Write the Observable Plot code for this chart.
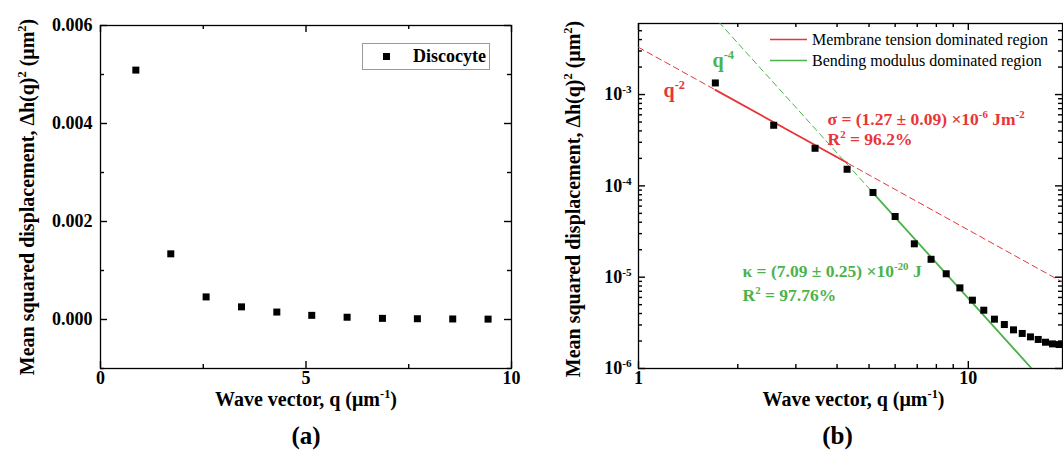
<!DOCTYPE html>
<html><head><meta charset="utf-8">
<script src="https://cdn.jsdelivr.net/npm/d3@7"></script>
<script src="https://cdn.jsdelivr.net/npm/@observablehq/plot@0.6"></script>
<style>
html,body{margin:0;padding:0;background:#fff;}
body{width:1063px;height:471px;overflow:hidden;position:relative;font-family:"Liberation Serif","Tinos","Times New Roman","DejaVu Serif",serif;color:#000;}
#a{position:absolute;left:0;top:0}
#b{position:absolute;left:540px;top:0}
.leg{position:absolute;white-space:nowrap;}
svg text{font-family:"Liberation Serif","Tinos","Times New Roman","DejaVu Serif",serif;}
</style></head><body>
<div id="a"></div><div id="b"></div>
<div id="legends"></div>
<script>
// ---- data ----
const waveVector = [0.86, 1.71, 2.57, 3.43, 4.29, 5.14, 6.00, 6.86, 7.71, 8.57, 9.43, 10.29, 11.14, 12.00, 12.86, 13.71, 14.57, 15.43, 16.29, 17.14, 18.00, 18.86];
const msd = [5.09e-3, 1.34e-3, 4.61e-4, 2.58e-4, 1.52e-4, 8.47e-5, 4.62e-5, 2.32e-5, 1.57e-5, 1.09e-5, 7.64e-6, 5.6e-6, 4.35e-6, 3.47e-6, 3.03e-6, 2.65e-6, 2.42e-6, 2.22e-6, 2.08e-6, 1.94e-6, 1.86e-6, 1.83e-6];
const seriesName = "Discocyte";
// fit parameters (amplitude of power law) and fit ranges
const tensionAmp = 3.29e-3, tensionExp = -2, tensionRange = [1.71, 4.29];
const bendingAmp = 0.0586, bendingExp = -4, bendingRange = [5.14, 16];
const lineRange = [1, 19.3];
const legendB = ["Membrane tension dominated region", "Bending modulus dominated region"];
const annoTension = ["σ = (1.27 ± 0.09) ×10⁻⁶ Jm⁻²", "R² = 96.2%"];
const annoBending = ["κ = (7.09 ± 0.25) ×10⁻²⁰ J", "R² = 97.76%"];
const xTitle = "Wave vector, q (μm⁻¹)";
const yTitle = "Mean squared displacement, Δh(q)² (μm²)";
// ticks
const xTicksA = [0, 5, 10], xMinorA = [2.5, 7.5];
const yTicksA = [0, 0.002, 0.004, 0.006], yMinorA = [-0.001, 0.001, 0.003, 0.005];
const xTicksB = [1, 10], yTicksB = [1e-6, 1e-5, 1e-4, 1e-3];

const RED = "#e8353a", GREEN = "#4cb24c";
const serif = '"Liberation Serif","Tinos","Times New Roman","DejaVu Serif",serif';

const sd = {"-":"⁻","0":"⁰","1":"¹","2":"²","3":"³","4":"⁴","5":"⁵","6":"⁶","7":"⁷","8":"⁸","9":"⁹"};
const sup = s => String(s).split("").map(c => sd[c]).join("");
const fmtPow = d => "10" + sup(Math.round(Math.log10(d)));

// inward ticks on all four sides, drawn as tick marks with insets
const TW = 1.4;
function inwardX(values, size, frameH) {
  return [
    Plot.tickX(values, {x: d => d, insetTop: frameH - size, stroke: "#000", strokeWidth: TW}),
    Plot.tickX(values, {x: d => d, insetBottom: frameH - size, stroke: "#000", strokeWidth: TW})
  ];
}
function inwardY(values, size, frameW) {
  return [
    Plot.tickY(values, {y: d => d, insetRight: frameW - size, stroke: "#000", strokeWidth: TW}),
    Plot.tickY(values, {y: d => d, insetLeft: frameW - size, stroke: "#000", strokeWidth: TW})
  ];
}

// ---- panel (a) ----
const A = {width: 540, height: 471, mL: 100, mR: 29, mT: 25, mB: 103};
const fwA = A.width - A.mL - A.mR, fhA = A.height - A.mT - A.mB;
const dataA = waveVector.map((q, i) => ({q, v: msd[i]})).filter(d => d.q < 10);
const plotA = Plot.plot({
  width: A.width, height: A.height,
  marginLeft: A.mL, marginRight: A.mR, marginTop: A.mT, marginBottom: A.mB,
  style: {fontFamily: serif, fontSize: "18px", fontWeight: "bold", color: "#000", background: "#fff", overflow: "visible"},
  x: {domain: [0, 10]},
  y: {domain: [-0.001, 0.006]},
  marks: [
    Plot.frame({stroke: "#000", strokeWidth: 1.3}),
    ...inwardX(xTicksA, 7, fhA), ...inwardX(xMinorA, 4, fhA),
    ...inwardY(yTicksA, 7, fwA), ...inwardY(yMinorA, 4, fwA),
    Plot.axisX(xTicksA, {tickSize: 0, tickPadding: 3, label: null, tickFormat: d => String(d), fontSize: 18, fontWeight: "bold"}),
    Plot.axisY(yTicksA, {tickSize: 0, tickPadding: 8, label: null, tickFormat: d3.format(".3f"), fontSize: 18, fontWeight: "bold"}),
    Plot.dot(dataA, {x: "q", y: "v", symbol: "square", r: 3.95, fill: "#000", stroke: "none"}),
    Plot.text([xTitle], {frameAnchor: "bottom", textAnchor: "middle", dy: 37, fontSize: 20, fontWeight: "bold"}),
    Plot.text([yTitle], {frameAnchor: "left", textAnchor: "middle", rotate: -90, dx: -73, fontSize: 20, fontWeight: "bold"}),
    Plot.text(["(a)"], {frameAnchor: "bottom", textAnchor: "middle", dy: 75, fontSize: 25, fontWeight: "bold"})
  ]
});
document.getElementById("a").append(plotA);

// ---- panel (b) ----
const B = {width: 523, height: 471, mL: 98, mR: 1, mT: 23, mB: 103};
const fwB = B.width - B.mL - B.mR, fhB = B.height - B.mT - B.mB;
const dataB = waveVector.map((q, i) => ({q, v: msd[i]})).slice(1);
const powerLine = (amp, exp, range) => range.map(q => ({q, v: amp * Math.pow(q, exp)}));
const minorLog = (lo, hi) => { const out = []; for (let e = lo; e <= hi; e++) for (let m = 2; m <= 9; m++) out.push(m * Math.pow(10, e)); return out; };
const xMinorB = minorLog(0, 1).filter(v => v < 19.3);
const yMinorB = minorLog(-6, -3).filter(v => v < 6e-3);

const plotB = Plot.plot({
  width: B.width, height: B.height,
  marginLeft: B.mL, marginRight: B.mR, marginTop: B.mT, marginBottom: B.mB,
  style: {fontFamily: serif, fontSize: "18px", fontWeight: "bold", color: "#000", background: "#fff", overflow: "visible"},
  x: {type: "log", domain: [1, 19.3]},
  y: {type: "log", domain: [1e-6, 6e-3]},
  marks: [
    Plot.frame({stroke: "#000", strokeWidth: 1.3}),
    ...inwardX(xTicksB, 7, fhB), ...inwardX(xMinorB, 4, fhB),
    ...inwardY(yTicksB, 7, fwB), ...inwardY(yMinorB, 4, fwB),
    Plot.axisX(xTicksB, {tickSize: 0, tickPadding: 3, label: null, tickFormat: d => String(d), fontSize: 18, fontWeight: "bold"}),
    Plot.axisY(yTicksB, {tickSize: 0, tickPadding: 7, label: null, tickFormat: fmtPow, fontSize: 18, fontWeight: "bold"}),
    Plot.line(powerLine(tensionAmp, tensionExp, lineRange), {x: "q", y: "v", stroke: RED, strokeWidth: 1, strokeDasharray: "6,4", clip: true}),
    Plot.line(powerLine(bendingAmp, bendingExp, lineRange), {x: "q", y: "v", stroke: GREEN, strokeWidth: 1, strokeDasharray: "6,4", clip: true}),
    Plot.line(powerLine(tensionAmp, tensionExp, tensionRange), {x: "q", y: "v", stroke: RED, strokeWidth: 1.8, clip: true}),
    Plot.line(powerLine(bendingAmp, bendingExp, bendingRange), {x: "q", y: "v", stroke: GREEN, strokeWidth: 1.8, clip: true}),
    Plot.dot(dataB, {x: "q", y: "v", symbol: "square", r: 3.95, fill: "#000", stroke: "none"}),
    Plot.text(["q⁻²"], {frameAnchor: "top-left", dx: 25, dy: 59, fill: RED, fontSize: 20, fontWeight: "bold", textAnchor: "start"}),
    Plot.text(["q⁻⁴"], {frameAnchor: "top-left", dx: 74, dy: 29, fill: GREEN, fontSize: 20, fontWeight: "bold", textAnchor: "start"}),
    Plot.text([annoTension[0]], {frameAnchor: "top-left", dx: 189, dy: 89, fill: RED, fontSize: 17.5, fontWeight: "bold", textAnchor: "start"}),
    Plot.text([annoTension[1]], {frameAnchor: "top-left", dx: 189, dy: 109, fill: RED, fontSize: 17.5, fontWeight: "bold", textAnchor: "start"}),
    Plot.text([annoBending[0]], {frameAnchor: "top-left", dx: 104, dy: 241, fill: GREEN, fontSize: 17.5, fontWeight: "bold", textAnchor: "start"}),
    Plot.text([annoBending[1]], {frameAnchor: "top-left", dx: 104, dy: 265, fill: GREEN, fontSize: 17.5, fontWeight: "bold", textAnchor: "start"}),
    Plot.text([xTitle], {frameAnchor: "bottom", textAnchor: "middle", dy: 37, dx: 3, fontSize: 20, fontWeight: "bold"}),
    Plot.text([yTitle], {frameAnchor: "left", textAnchor: "middle", rotate: -90, dx: -65, dy: 3, fontSize: 20, fontWeight: "bold"}),
    Plot.text(["(b)"], {frameAnchor: "bottom", textAnchor: "middle", dy: 75, dx: -13, fontSize: 25, fontWeight: "bold"})
  ]
});
document.getElementById("b").append(plotB);

// ---- turn unicode superscripts into raised, smaller tspans ----
const supBack = {"⁻":"-","⁰":"0","¹":"1","²":"2","³":"3","⁴":"4","⁵":"5","⁶":"6","⁷":"7","⁸":"8","⁹":"9"};
const NS = "http://www.w3.org/2000/svg";
function fixSup(root) {
  root.querySelectorAll("text").forEach(t => {
    const targets = t.querySelector("tspan") ? Array.from(t.querySelectorAll("tspan")) : [t];
    targets.forEach(el => {
      const s = el.textContent;
      if (![...s].some(c => c in supBack)) return;
      const fs = parseFloat(getComputedStyle(el).fontSize) || 18;
      const raise = 0.38 * fs;
      const runs = [];
      for (const c of s) {
        const isSup = c in supBack, ch = isSup ? supBack[c] : c;
        if (runs.length && runs[runs.length - 1].sup === isSup) runs[runs.length - 1].text += ch;
        else runs.push({sup: isSup, text: ch});
      }
      el.textContent = "";
      let raised = false;
      runs.forEach(r => {
        const ts = document.createElementNS(NS, "tspan");
        ts.textContent = r.text;
        if (r.sup) { ts.setAttribute("font-size", (0.62 * fs) + "px"); ts.setAttribute("dy", -raise); raised = true; }
        else if (raised) { ts.setAttribute("dy", raise); raised = false; }
        el.appendChild(ts);
      });
    });
  });
}
fixSup(plotA); fixSup(plotB);

// ---- legends (HTML overlays) ----
const leg = document.getElementById("legends");
leg.innerHTML = `
<div class="leg" style="left:362px;top:43px;width:128px;height:27px;border:1px solid #9a9a9a;box-sizing:border-box;background:#fff;">
  <div style="position:absolute;left:20px;top:9px;width:7px;height:7px;background:#000"></div>
  <div style="position:absolute;left:50px;top:0;line-height:25px;font-size:18px;font-weight:bold;">${seriesName}</div>
</div>
<div class="leg" style="left:770px;top:29px;height:21px;">
  <svg width="38" height="21" style="position:absolute;left:0;top:0"><line x1="0" x2="37" y1="10.5" y2="10.5" stroke="${RED}" stroke-width="1.6"/></svg>
  <div style="position:absolute;left:42px;top:0;line-height:21px;font-size:16px;">${legendB[0]}</div>
</div>
<div class="leg" style="left:770px;top:50px;height:21px;">
  <svg width="38" height="21" style="position:absolute;left:0;top:0"><line x1="0" x2="37" y1="10.5" y2="10.5" stroke="${GREEN}" stroke-width="1.6"/></svg>
  <div style="position:absolute;left:42px;top:0;line-height:21px;font-size:16px;">${legendB[1]}</div>
</div>`;
</script>
</body></html>
